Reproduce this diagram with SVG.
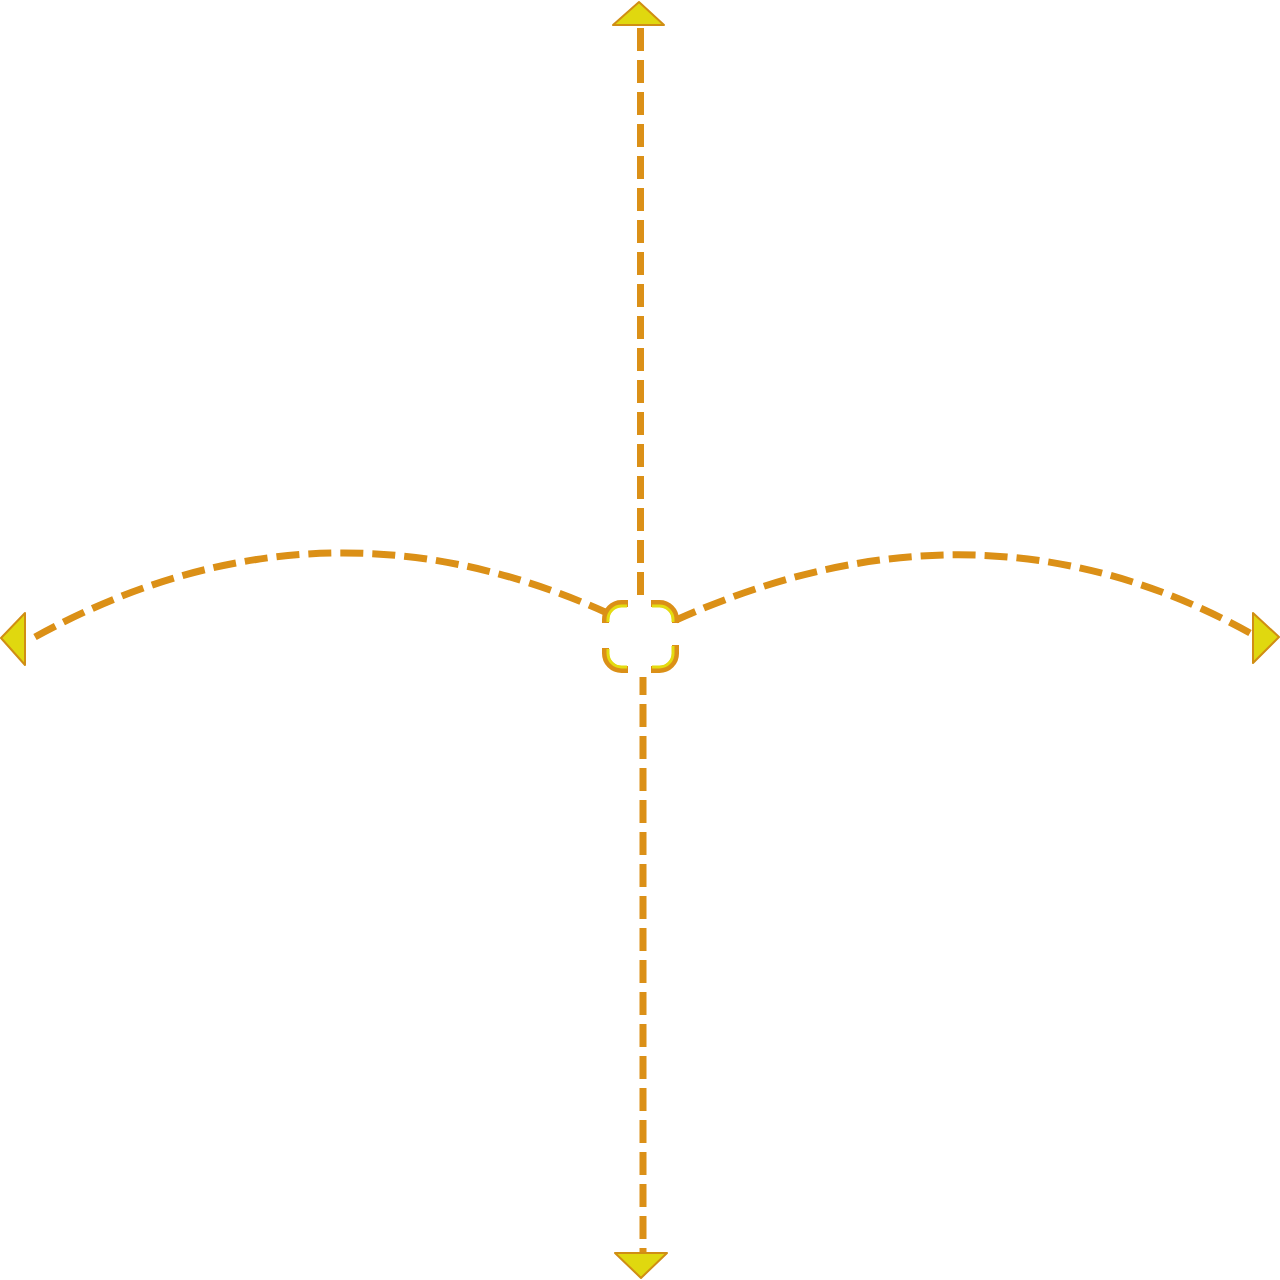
<svg xmlns="http://www.w3.org/2000/svg" width="1280" height="1280" viewBox="0 0 1280 1280">
<style>
.edge{fill:none;stroke:#DB9017;stroke-width:7;stroke-dasharray:23 9}
.arrow{fill:#E0D80F;stroke:#D08E14;stroke-width:2;stroke-linejoin:round}
.ring{fill:none;stroke:#DB9017;stroke-width:7}
.ringin{fill:none;stroke:#E4DC10;stroke-width:3}
</style>
<rect width="1280" height="1280" fill="#FFFFFF"/>
<g id="connectors">
<path class="edge" d="M640.5,28 V598"/>
<path class="edge" style="stroke-dashoffset:5" d="M643,677 V1252"/>
<path class="edge" d="M35,637 Q316,482.4 605,612"/>
<path class="edge" d="M1250,633 Q980,483.4 676,620"/>
</g>
<g id="arrow-top"><polygon class="arrow" points="639,2 613,25 664,25"/></g>
<g id="arrow-bottom"><polygon class="arrow" points="615,1253 667,1253 641,1278"/></g>
<g id="arrow-left"><polygon class="arrow" points="1,638 25,613 25,665"/></g>
<g id="arrow-right"><polygon class="arrow" points="1253,613 1279,637 1253,663"/></g>
<g id="center">
<path class="ring" d="M605.5,623 V619.5 A16,16 0 0 1 621.5,603.5 H628"/>
<path class="ring" d="M651,603.5 H659.5 A16,16 0 0 1 675.5,619.5 V623"/>
<path class="ring" d="M675.5,645 V653.5 A16,16 0 0 1 659.5,669.5 H651"/>
<path class="ring" d="M628,669.5 H621.5 A16,16 0 0 1 605.5,653.5 V648"/>
<path class="ringin" d="M608,622 V619.5 A13.5,13.5 0 0 1 621.5,606 H627"/>
<path class="ringin" d="M652,606 H659.5 A13.5,13.5 0 0 1 673,619.5 V622"/>
<path class="ringin" d="M673,646 V653.5 A13.5,13.5 0 0 1 659.5,667 H652"/>
<path class="ringin" d="M627,667 H621.5 A13.5,13.5 0 0 1 608,653.5 V649"/>
</g>
</svg>
